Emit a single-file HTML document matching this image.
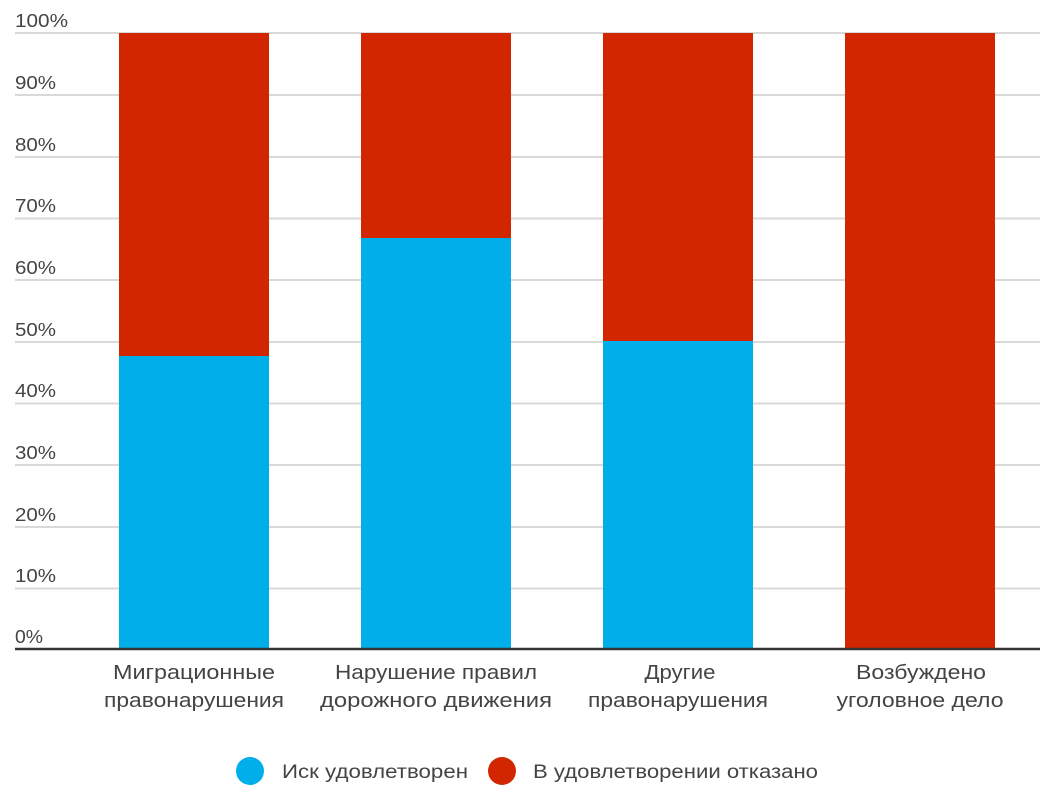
<!DOCTYPE html>
<html><head><meta charset="utf-8"><style>
body{margin:0;background:#fff;}
svg{display:block;font-family:"Liberation Sans",sans-serif;}
</style></head><body>
<svg width="1060" height="801" viewBox="0 0 1060 801">
<g stroke="#d9d9d9" stroke-width="2">
<line x1="15" x2="1040" y1="33" y2="33"/>
<line x1="15" x2="1040" y1="95" y2="95"/>
<line x1="15" x2="1040" y1="157" y2="157"/>
<line x1="15" x2="1040" y1="218.5" y2="218.5"/>
<line x1="15" x2="1040" y1="280" y2="280"/>
<line x1="15" x2="1040" y1="342" y2="342"/>
<line x1="15" x2="1040" y1="403.5" y2="403.5"/>
<line x1="15" x2="1040" y1="465" y2="465"/>
<line x1="15" x2="1040" y1="527" y2="527"/>
<line x1="15" x2="1040" y1="588.5" y2="588.5"/>
</g>
<g fill="#444" font-size="18">
<text x="15" y="27" textLength="53" lengthAdjust="spacingAndGlyphs">100%</text>
<text x="15" y="89" textLength="41" lengthAdjust="spacingAndGlyphs">90%</text>
<text x="15" y="151" textLength="41" lengthAdjust="spacingAndGlyphs">80%</text>
<text x="15" y="212" textLength="41" lengthAdjust="spacingAndGlyphs">70%</text>
<text x="15" y="274" textLength="41" lengthAdjust="spacingAndGlyphs">60%</text>
<text x="15" y="336" textLength="41" lengthAdjust="spacingAndGlyphs">50%</text>
<text x="15" y="397" textLength="41" lengthAdjust="spacingAndGlyphs">40%</text>
<text x="15" y="459" textLength="41" lengthAdjust="spacingAndGlyphs">30%</text>
<text x="15" y="521" textLength="41" lengthAdjust="spacingAndGlyphs">20%</text>
<text x="15" y="582" textLength="41" lengthAdjust="spacingAndGlyphs">10%</text>
<text x="15" y="643" textLength="28" lengthAdjust="spacingAndGlyphs">0%</text>
</g>
<rect x="119" y="33" width="150" height="323" fill="#d12600"/>
<rect x="119" y="356" width="150" height="293" fill="#00aee9"/>
<rect x="361" y="33" width="150" height="205" fill="#d12600"/>
<rect x="361" y="238" width="150" height="411" fill="#00aee9"/>
<rect x="603" y="33" width="150" height="308" fill="#d12600"/>
<rect x="603" y="341" width="150" height="308" fill="#00aee9"/>
<rect x="845" y="33" width="150" height="616" fill="#d12600"/>
<line x1="15" x2="1040" y1="649" y2="649" stroke="#333" stroke-width="2.5"/>
<g fill="#444" font-size="20" text-anchor="middle" lengthAdjust="spacingAndGlyphs">
<text x="194" y="679" textLength="162" lengthAdjust="spacingAndGlyphs">Миграционные</text>
<text x="194" y="707" textLength="180" lengthAdjust="spacingAndGlyphs">правонарушения</text>
<text x="436" y="679" textLength="202" lengthAdjust="spacingAndGlyphs">Нарушение правил</text>
<text x="436" y="707" textLength="232" lengthAdjust="spacingAndGlyphs">дорожного движения</text>
<text x="680" y="679" textLength="71" lengthAdjust="spacingAndGlyphs">Другие</text>
<text x="678" y="707" textLength="180" lengthAdjust="spacingAndGlyphs">правонарушения</text>
<text x="921" y="679" textLength="130" lengthAdjust="spacingAndGlyphs">Возбуждено</text>
<text x="920" y="707" textLength="167" lengthAdjust="spacingAndGlyphs">уголовное дело</text>
</g>
<circle cx="250" cy="771" r="14" fill="#00aee9"/>
<circle cx="502" cy="771" r="14" fill="#d12600"/>
<g fill="#444" font-size="19">
<text x="282" y="778" textLength="186" lengthAdjust="spacingAndGlyphs">Иск удовлетворен</text>
<text x="533" y="778" textLength="285" lengthAdjust="spacingAndGlyphs">В удовлетворении отказано</text>
</g>
</svg>
</body></html>
